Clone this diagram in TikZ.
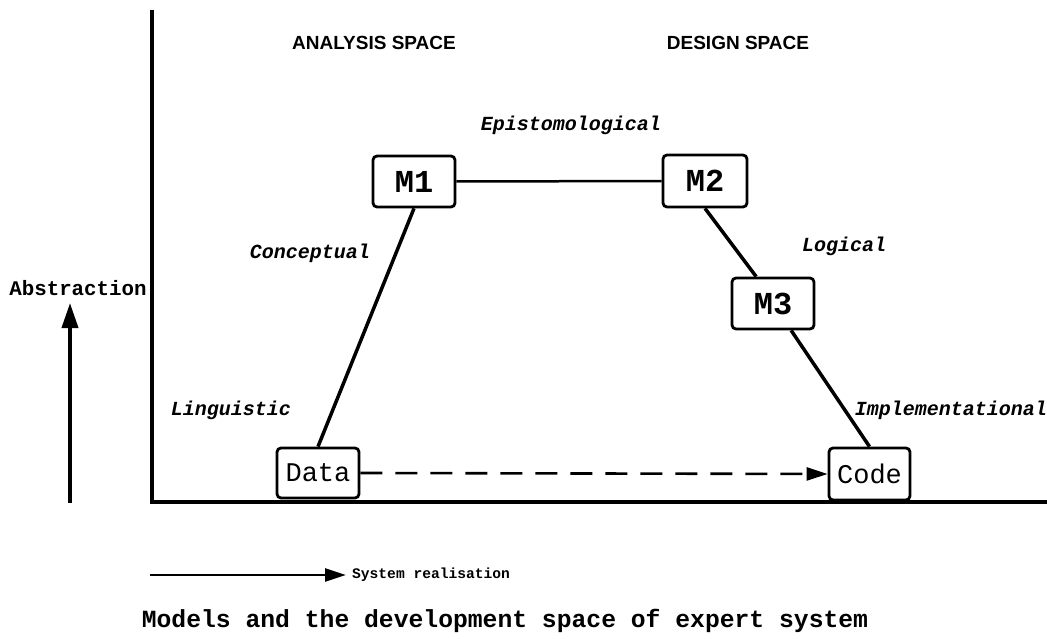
\documentclass[tikz,border=0pt]{standalone}
\usepackage{fontspec}
\setmainfont{Liberation Sans}
\setsansfont{Liberation Sans}
\setmonofont{Liberation Mono}
\usetikzlibrary{arrows.meta}

\begin{document}
\begin{tikzpicture}[x=1pt,y=-1pt,
  model/.style={draw, line width=2.8pt, rounded corners=4pt, fill=white,
    minimum width=82pt, minimum height=51pt, inner sep=0pt},
  mlabel/.style={model, font=\fontsize{32}{36}\selectfont\ttfamily\bfseries},
  endlabel/.style={model, font=\fontsize{27}{30}\selectfont\ttfamily},
  level/.style={font=\fontsize{20}{24}\selectfont\ttfamily\bfseries\itshape, inner sep=0pt},
  heading/.style={font=\fontsize{19}{22}\selectfont\sffamily\bfseries, inner sep=0pt},
  axislabel/.style={font=\ttfamily\bfseries, inner sep=0pt},
  link/.style={line width=3.5pt},
  axisline/.style={line width=3.2pt}
]
\useasboundingbox (0,0) rectangle (1047,639);

% development space axes
\coordinate (axTop) at (152,10);
\coordinate (axOrigin) at (152,502);
\coordinate (axRight) at (1047,502);
\draw[axisline] (axTop) -- (axOrigin) -- (axRight);

% region headings
\node[heading] (analysis) at (374,43) {ANALYSIS SPACE};
\node[heading] (design) at (738,43) {DESIGN SPACE};

% models
\node[mlabel] (M1) at (414,181.5) {M1};
\node[mlabel, minimum width=84pt, minimum height=52pt] (M2) at (705,181) {M2};
\node[mlabel] (M3) at (773,303.5) {M3};
\node[endlabel, minimum height=50pt] (Data) at (318,473) {Data};
\node[endlabel, minimum width=81pt, minimum height=52pt] (Code) at (869.5,474) {Code};

% transformations between models
\draw[line width=2.5pt] (M1) -- (M2);
\draw[link] (M1.south) -- (Data.north);
\draw[link] (M2.south) -- (M3.122);
\draw[link] (M3.-56) -- (Code.north);
\draw[line width=2.6pt, dash pattern=on 22pt off 13pt,
  -{Triangle[length=21pt,width=13pt]}] (Data.east) -- (Code.west);

% level names
\node[level] (epist) at (571,125) {Epistomological};
\node[level] (concept) at (310,253) {Conceptual};
\node[level] (logic) at (844,246) {Logical};
\node[level] (ling) at (231,410) {Linguistic};
\node[level] (impl) at (951,410) {Implementational};

% abstraction axis
\node[axislabel, font=\fontsize{20.8}{24}\selectfont\ttfamily\bfseries] (abstr) at (78,288) {Abstraction};
\coordinate (abBase) at (70,503);
\coordinate (abTip) at (70,303);
\draw[line width=3.8pt, -{Triangle[length=25pt,width=16pt]}] (abBase) -- (abTip);

% realisation axis
\coordinate (reBase) at (150,575);
\coordinate (reTip) at (346,575);
\draw[line width=2.6pt, -{Triangle[length=21pt,width=13pt]}] (reBase) -- (reTip);
\node[axislabel, anchor=west, font=\fontsize{14.6}{18}\selectfont\ttfamily\bfseries] (real) at (352,575) {System realisation};

% caption
\node[inner sep=0pt, font=\fontsize{24.7}{28}\selectfont\ttfamily\bfseries] (caption) at (505,621)
  {Models and the development space of expert system};
\end{tikzpicture}
\end{document}
